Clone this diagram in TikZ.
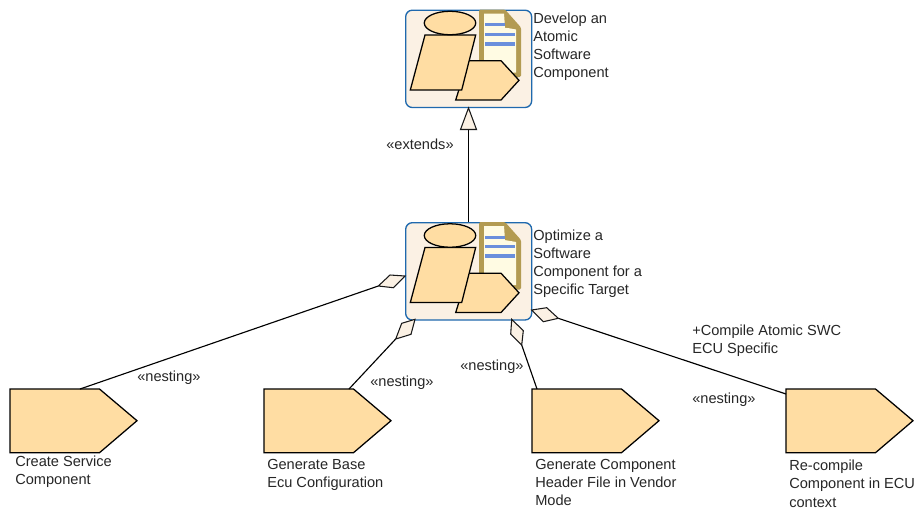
\documentclass[tikz,border=0pt]{standalone}
\usepackage{fontspec}
\setmainfont{Liberation Sans}
\definecolor{peach}{HTML}{FFDDA3}
\definecolor{boxfill}{HTML}{FBF1E4}
\definecolor{boxline}{HTML}{1F69AE}
\definecolor{doctan}{HTML}{B39B52}
\definecolor{doccream}{HTML}{FFFBE3}
\definecolor{docline}{HTML}{6B8FDC}
\tikzset{
  shapeline/.style={draw=black,fill=peach,line width=0.95pt,line join=miter},
  frame/.style={draw=boxline,fill=boxfill,line width=1pt,rounded corners=5pt,minimum width=94.5pt,minimum height=73pt,inner sep=0pt,anchor=north west},
  lbl/.style={font=\fontsize{10.95pt}{13.6pt}\selectfont,text=black!85,align=left,anchor=north west,inner sep=0pt},
  conn/.style={draw=black,line width=0.85pt},
  dia/.style={draw=black!90,fill=boxfill,line width=0.8pt,line join=miter},
  slot/.style={minimum width=95pt,minimum height=48pt,inner sep=0pt,anchor=north west}
}
\newcommand{\activityicon}[3]{%
  \node[frame] (#1) at (#2,#3) {};
  \begin{scope}[shift={(#2,#3)}]
    \fill[doctan,rounded corners=1pt] (74,0) -- (100,0) -- (116,18) -- (116,67.5) -- (74,67.5) -- cycle;
    \fill[doccream] (79,4) -- (99,4) -- (100,18) -- (111,20) -- (111,63) -- (79,63) -- cycle;
    \fill[doctan] (100,2) -- (114,18) -- (100,18) -- cycle;
    \draw[docline,line width=2pt] (80,15.2) -- (100,15.2);
    \draw[docline,line width=2pt] (80,24.8) -- (110,24.8);
    \draw[docline,line width=3.2pt] (80,34.2) -- (110,34.2);
    \draw[shapeline] (50.7,90.5) -- (96,90.5) -- (114,70.8) -- (96,51.2) -- (63,51.2) -- cycle;
    \draw[shapeline] (20,25.5) -- (70.7,25.5) -- (56.7,80.5) -- (5.3,80.5) -- cycle;
    \draw[shapeline] (45,13.5) ellipse [x radius=19.3pt,y radius=8.8pt];
  \end{scope}}
\newcommand{\stepshape}[3]{%
  \node[slot] (#1) at (#2,#3) {};
  \draw[shapeline] (#2,#3) -- ++(89.5,0) -- ++(37.5,31.7) -- ++(-37.5,32) -- ++(-89.5,0) -- cycle;}
\begin{document}
\begin{tikzpicture}[x=0.75pt,y=-0.75pt]
\useasboundingbox (0,0) rectangle (919,508);
\activityicon{dev}{405}{9.5}
\activityicon{opt}{405}{222}
\stepshape{s1}{10}{389}
\stepshape{s2}{264}{389}
\stepshape{s3}{532}{389}
\stepshape{s4}{786}{389}
\node[lbl] (tdev) at (533,12.5) {Develop an\\Atomic\\Software\\Component};
\node[lbl] (topt) at (533,229.5) {Optimize a\\Software\\Component for a\\Specific Target};
\node[lbl] (t1) at (15,456) {Create Service\\Component};
\node[lbl] (t2) at (267,459) {Generate Base\\Ecu Configuration};
\node[lbl] (t3) at (535,459) {Generate Component\\Header File in Vendor\\Mode};
\node[lbl] (t4) at (789,460) {Re-compile\\Component in ECU\\context};
% generalisation
\coordinate (gtip) at (468.5,108);
\coordinate (gl) at (460.5,129.5);
\coordinate (gr) at (476.5,129.5);
\coordinate (gb) at (468.5,129.5);
\draw[conn] (gb) -- (opt.north -| gb);
\draw[dia] (gtip) -- (gr) -- (gl) -- cycle;
% nesting connectors
\coordinate (d1a) at (405,276);\coordinate (d1b) at (390,275);\coordinate (d1c) at (378.3,286);\coordinate (d1d) at (393.3,287.7);
\coordinate (e1) at (80,389);
\draw[conn] (d1c) -- (e1);
\draw[dia] (d1a) -- (d1b) -- (d1c) -- (d1d) -- cycle;
\coordinate (d2a) at (415,319.3);\coordinate (d2b) at (401.7,323.3);\coordinate (d2c) at (395.7,339);\coordinate (d2d) at (411,334.3);
\coordinate (e2) at (349,389);
\draw[conn] (d2c) -- (e2);
\draw[dia] (d2a) -- (d2b) -- (d2c) -- (d2d) -- cycle;
\coordinate (d3a) at (511.7,319.3);\coordinate (d3b) at (523.3,330.7);\coordinate (d3c) at (521.7,345);\coordinate (d3d) at (510.7,334);
\coordinate (e3) at (537,389);
\draw[conn] (d3c) -- (e3);
\draw[dia] (d3a) -- (d3b) -- (d3c) -- (d3d) -- cycle;
\coordinate (d4a) at (531.7,310);\coordinate (d4b) at (546.7,307.7);\coordinate (d4c) at (558.3,318.3);\coordinate (d4d) at (543.3,321.7);
\coordinate (e4) at (786,394);
\draw[conn] (d4c) -- (e4);
\draw[dia] (d4a) -- (d4b) -- (d4c) -- (d4d) -- cycle;
% connector labels
\node[lbl,anchor=west] (l0) at (386,144.5) {«extends»};
\node[lbl,anchor=west] (l1) at (137,377.5) {«nesting»};
\node[lbl,anchor=west] (l2) at (370,382.5) {«nesting»};
\node[lbl,anchor=west] (l3) at (460,366.5) {«nesting»};
\node[lbl,anchor=west] (l4) at (692,399.5) {«nesting»};
\node[lbl] (l5) at (692,325) {+Compile Atomic SWC\\ECU Specific};
\end{tikzpicture}
\end{document}
